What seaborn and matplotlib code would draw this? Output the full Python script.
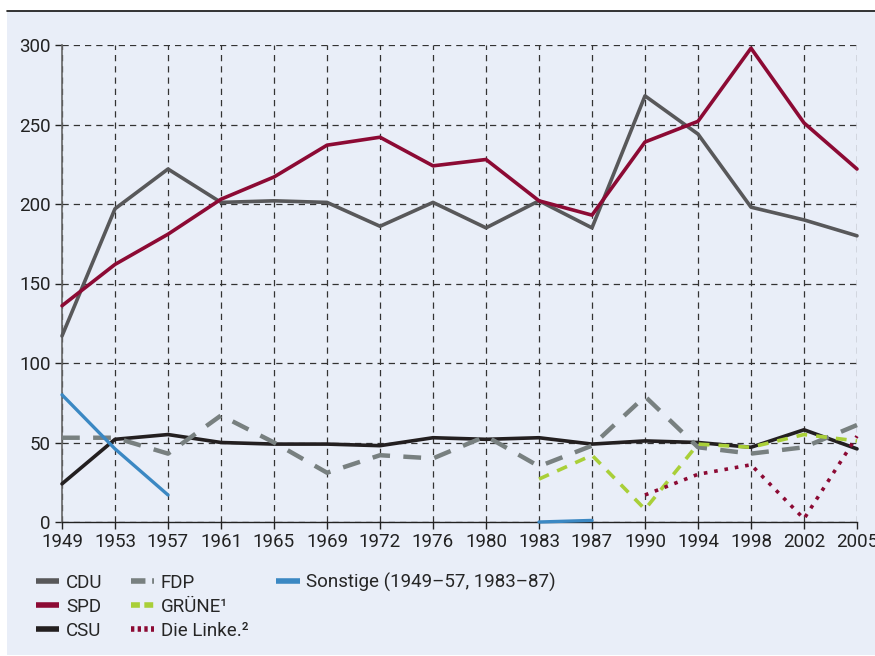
import seaborn as sns
import numpy as np
import pandas as pd
from matplotlib import pyplot as plt
from matplotlib.lines import Line2D
from matplotlib.patches import Rectangle

# Sitze im Bundestag je Partei
years = ["1949", "1953", "1957", "1961", "1965", "1969", "1972", "1976",
         "1980", "1983", "1987", "1990", "1994", "1998", "2002", "2005"]
cdu = [117, 197, 222, 201, 202, 201, 186, 201, 185, 202, 185, 268, 244, 198, 190, 180]
spd = [136, 162, 181, 203, 217, 237, 242, 224, 228, 202, 193, 239, 252, 298, 251, 222]
csu = [24, 52, 55, 50, 49, 49, 48, 53, 52, 53, 49, 51, 50, 47, 58, 46]
fdp = [53, 53, 43, 67, 50, 31, 42, 40, 54, 35, 48, 79, 47, 43, 47, 61]
gruene_years = ["1983", "1987", "1990", "1994", "1998", "2002", "2005"]
gruene = [27, 42, 8, 49, 47, 55, 51]
linke_years = ["1990", "1994", "1998", "2002", "2005"]
linke = [17, 30, 36, 2, 54]
sonst_years_a = ["1949", "1953", "1957"]
sonst_a = [80, 46, 17]
sonst_years_b = ["1983", "1987"]
sonst_b = [0, 1]
y_ticks = [0, 50, 100, 150, 200, 250, 300]

BG = "#e9eef8"
C_CDU = "#58585a"
C_SPD = "#8c0a34"
C_CSU = "#231f20"
C_FDP = "#788080"
C_GRUENE = "#a9cf38"
C_SONST = "#3b88c3"

sns.set_style("white")
plt.rcParams['font.family'] = ['Roboto', 'DejaVu Sans']

pos = {y: i for i, y in enumerate(years)}


def frame(yrs, vals):
    return pd.DataFrame({"x": [pos[y] for y in yrs], "y": vals})


fig = plt.figure(figsize=(8.75, 6.56), dpi=100, facecolor="white")
fig.add_artist(Rectangle((7 / 875, 1 - 655 / 656), 868 / 875, 644 / 656,
                         transform=fig.transFigure, facecolor=BG, edgecolor="none", zorder=0))
fig.add_artist(Line2D([7 / 875, 1], [1 - 11 / 656, 1 - 11 / 656], color="#111111", lw=1.2))

ax = fig.add_axes([62 / 875, 1 - 522 / 656, 795 / 875, 477 / 656])
ax.set_facecolor(BG)

series = [
    (years, cdu, C_CDU, "-", 2.6),
    (years, spd, C_SPD, "-", 2.6),
    (years, csu, C_CSU, "-", 2.6),
    (years, fdp, C_FDP, (0, (4, 3)), 3.2),
    (gruene_years, gruene, C_GRUENE, (0, (3, 2.5)), 2.6),
    (linke_years, linke, C_SPD, (0, (1.0, 1.9)), 2.6),
    (sonst_years_a, sonst_a, C_SONST, "-", 2.4),
    (sonst_years_b, sonst_b, C_SONST, "-", 2.4),
]
for yrs, vals, col, ls, lw in series:
    sns.lineplot(data=frame(yrs, vals), x="x", y="y", ax=ax, color=col,
                 linestyle=ls, lw=lw, clip_on=False, zorder=3)

ax.set_xlim(0, len(years) - 1)
ax.set_ylim(0, 300)
ax.set_xticks(range(len(years)))
ax.set_xticklabels(years)
ax.set_yticks(y_ticks)
ax.set_xlabel("")
ax.set_ylabel("")
ax.grid(True, linestyle=(0, (5, 4)), color="#333333", lw=0.9)
for s in ["top", "right"]:
    ax.spines[s].set_visible(False)
ax.spines["left"].set_color("#666666")
ax.spines["left"].set_linewidth(1.2)
ax.spines["bottom"].set_color("#222222")
ax.spines["bottom"].set_linewidth(1.0)
ax.tick_params(axis="both", labelsize=13.5, colors="#222222", length=5, width=1,
               direction="out", left=True, bottom=True, pad=3)

blank = Line2D([], [], color="none")
handles = [
    Line2D([], [], color=C_CDU, lw=4, solid_capstyle="butt"),
    Line2D([], [], color=C_SPD, lw=4, solid_capstyle="butt"),
    Line2D([], [], color=C_CSU, lw=4, solid_capstyle="butt"),
    Line2D([], [], color=C_FDP, lw=4, linestyle=(0, (2.6, 1.2))),
    Line2D([], [], color=C_GRUENE, lw=4, linestyle=(0, (1.6, 0.8))),
    Line2D([], [], color=C_SPD, lw=4, linestyle=(0, (0.6, 0.6))),
    Line2D([], [], color=C_SONST, lw=4, solid_capstyle="butt"),
    blank, blank,
]
labels = ["CDU", "SPD", "CSU", "FDP", "GRÜNE¹", "Die Linke.²",
          "Sonstige (1949–57, 1983–87)", "", ""]
fig.legend(handles, labels, ncol=3, loc="upper left", bbox_to_anchor=(36 / 875, 1 - 573 / 656),
           frameon=False, fontsize=13.5, handlelength=1.25, handletextpad=0.35,
           columnspacing=1.5, labelspacing=0.32, borderaxespad=0, borderpad=0)

fig.savefig("out.png", dpi=100, facecolor="white")
